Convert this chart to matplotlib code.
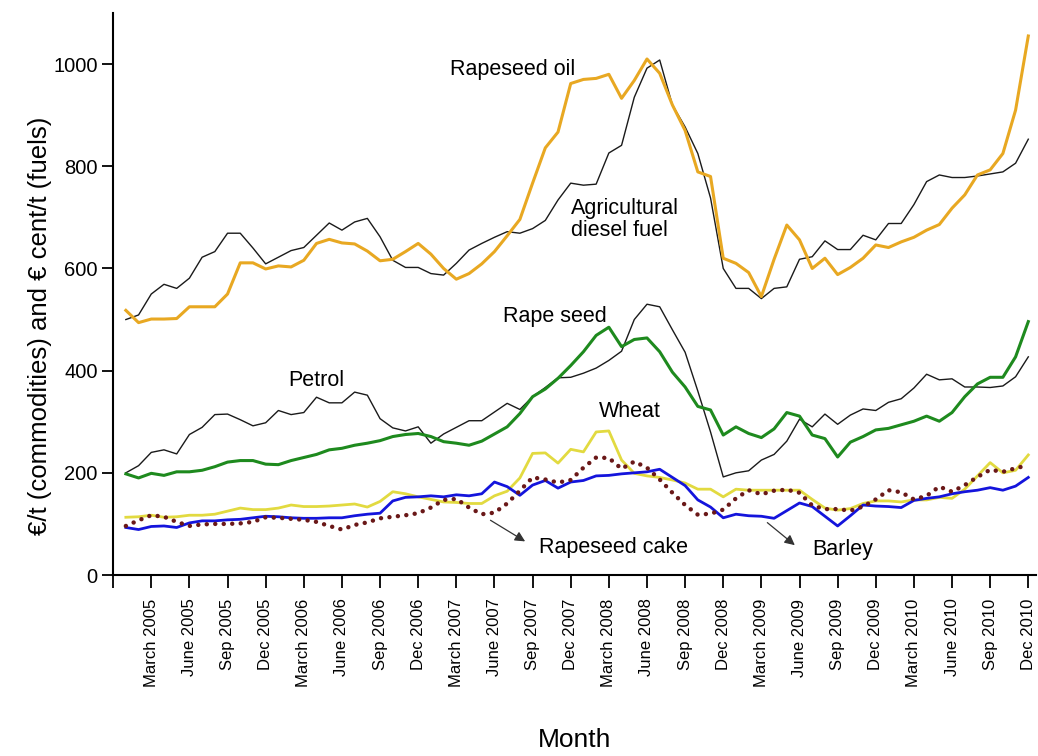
import matplotlib
matplotlib.use("Agg")
import matplotlib.pyplot as plt
import numpy as np

plt.rcParams['font.family'] = ['Liberation Sans', 'DejaVu Sans']

# Monthly values, Jan 2005 .. Dec 2010
months = np.arange(1, 73)

rapeseed_oil = [518, 494, 501, 501, 502, 525, 525, 525, 550, 611,
                611, 599, 605, 603, 616, 649, 657, 650, 648, 634,
                615, 618, 633, 649, 628, 600, 579, 590, 609, 633,
                664, 696, 767, 836, 867, 962, 970, 972, 980, 933,
                968, 1010, 982, 920, 870, 789, 780, 620, 610, 592,
                545, 618, 685, 656, 600, 620, 588, 602, 620, 646,
                641, 652, 661, 675, 686, 718, 744, 783, 793, 825, 910, 1055]
diesel = [500, 509, 550, 569, 561, 581, 622, 633, 669, 669,
          640, 609, 622, 635, 641, 665, 689, 675, 691, 698,
          662, 616, 602, 602, 590, 587, 610, 636, 649, 661,
          672, 669, 678, 694, 734, 767, 763, 765, 826, 841,
          935, 992, 1008, 920, 877, 825, 738, 600, 561, 561,
          541, 561, 564, 618, 623, 654, 637, 637, 665, 656,
          688, 688, 725, 770, 783, 778, 778, 781, 785, 789, 806, 853]
petrol = [200, 214, 240, 245, 237, 275, 289, 314, 315, 304,
          292, 298, 322, 314, 318, 348, 337, 337, 358, 352,
          306, 288, 282, 290, 258, 276, 289, 302, 302, 319,
          336, 324, 349, 367, 386, 387, 395, 405, 420, 438,
          500, 530, 525, 480, 436, 360, 280, 192, 200, 204,
          225, 236, 262, 305, 290, 315, 295, 313, 325, 322,
          338, 345, 366, 393, 382, 384, 368, 368, 367, 370, 388, 427]
rape_seed = [198, 190, 199, 195, 202, 202, 205, 212, 221, 224,
             224, 217, 216, 224, 230, 236, 245, 248, 254, 258,
             263, 271, 275, 277, 271, 261, 258, 254, 262, 276,
             290, 316, 349, 364, 385, 410, 437, 469, 485, 447,
             461, 464, 437, 397, 368, 330, 323, 274, 290, 277,
             269, 286, 318, 311, 274, 267, 231, 260, 271, 284,
             287, 294, 301, 311, 301, 318, 349, 374, 387, 387, 427, 496]
wheat = [113, 114, 117, 113, 114, 117, 117, 119, 125, 131,
         128, 128, 131, 137, 134, 134, 135, 137, 139, 133,
         144, 163, 159, 153, 148, 143, 142, 140, 140, 155,
         164, 190, 238, 239, 219, 246, 241, 280, 282, 225,
         199, 194, 191, 186, 180, 168, 168, 153, 168, 166,
         166, 166, 166, 166, 148, 131, 127, 130, 140, 145,
         145, 143, 147, 147, 152, 150, 168, 194, 220, 200, 205, 235]
barley = [93, 89, 95, 96, 93, 102, 106, 106, 108, 109,
          112, 115, 114, 112, 111, 111, 112, 112, 116, 119,
          121, 145, 152, 153, 155, 153, 157, 155, 159, 182,
          173, 156, 176, 185, 170, 182, 185, 194, 195, 198,
          200, 202, 207, 191, 175, 147, 133, 112, 119, 116,
          115, 111, 126, 141, 134, 115, 96, 116, 137, 135,
          134, 132, 146, 150, 153, 159, 163, 166, 171, 166, 174, 191]
rapeseed_cake = [96, 107, 117, 114, 104, 96, 99, 100, 100, 101,
                 104, 113, 112, 110, 108, 104, 96, 89, 98, 103,
                 111, 114, 117, 121, 132, 147, 149, 132, 119, 122,
                 140, 165, 191, 187, 181, 186, 210, 230, 229, 208,
                 222, 210, 187, 161, 137, 118, 120, 128, 150, 166,
                 158, 165, 167, 161, 136, 129, 129, 126, 134, 148,
                 166, 162, 148, 155, 173, 163, 176, 192, 206, 202, 209, 215]

quarter_names = ['March', 'June', 'Sep', 'Dec']
years = [2005, 2006, 2007, 2008, 2009, 2010]
tick_labels = [''] + [f'{q} {y}' for y in years for q in quarter_names]

fig = plt.figure(figsize=(10.38, 7.56), dpi=100)
ax = fig.add_axes([0.109, 0.2394, 0.889, 0.7434])

ax.plot(months, diesel, color='#1a1a1a', lw=1.0)
ax.plot(months, petrol, color='#1a1a1a', lw=1.0)
ax.plot(months, rapeseed_oil, color='#E8A822', lw=2.2)
ax.plot(months, rape_seed, color='#1E8A1E', lw=2.2)
ax.plot(months, wheat, color='#E2DA40', lw=2.0)
ax.plot(months, barley, color='#1414DC', lw=2.0)
ax.plot(months, rapeseed_cake, color='#6A1818', lw=3.2,
        linestyle=(0, (0.01, 1.9)), dash_capstyle='round')

ax.set_xlim(0, 72.6)
ax.set_ylim(0, 1100)
ax.set_xticks(np.arange(0, 73, 3))
ax.set_xticklabels(tick_labels, rotation=90, fontsize=12)
ax.set_yticks([0, 200, 400, 600, 800, 1000])
ax.tick_params(axis='y', labelsize=14.5, length=8, width=1.3, pad=3)
ax.tick_params(axis='x', length=9, width=1.3, pad=8)
for s in ['top', 'right']:
    ax.spines[s].set_visible(False)
for s in ['left', 'bottom']:
    ax.spines[s].set_linewidth(1.5)

ax.set_ylabel('€/t (commodities) and € cent/t (fuels)', fontsize=18.5)
ax.yaxis.set_label_coords(-0.066, 0.443)
ax.set_xlabel('Month', fontsize=19)
ax.xaxis.set_label_coords(0.5, -0.272)

fs = 15.5
ax.text(26.5, 990, 'Rapeseed oil', fontsize=fs, va='center')
ax.text(36.0, 696, 'Agricultural\ndiesel fuel', fontsize=fs, va='center', linespacing=1.1)
ax.text(13.8, 380, 'Petrol', fontsize=fs, va='center')
ax.text(30.7, 505, 'Rape seed', fontsize=fs, va='center')
ax.text(38.2, 320, 'Wheat', fontsize=fs, va='center')
ax.text(33.5, 53, 'Rapeseed cake', fontsize=fs, va='center')
ax.text(55.0, 50, 'Barley', fontsize=fs, va='center')

arrow = dict(arrowstyle='-|>', color='#333333', lw=0.9, mutation_scale=15)
ax.annotate('', xy=(32.6, 63), xytext=(29.5, 110), arrowprops=arrow)
ax.annotate('', xy=(53.8, 55), xytext=(51.3, 106), arrowprops=arrow)

fig.savefig('out.png', dpi=100)
